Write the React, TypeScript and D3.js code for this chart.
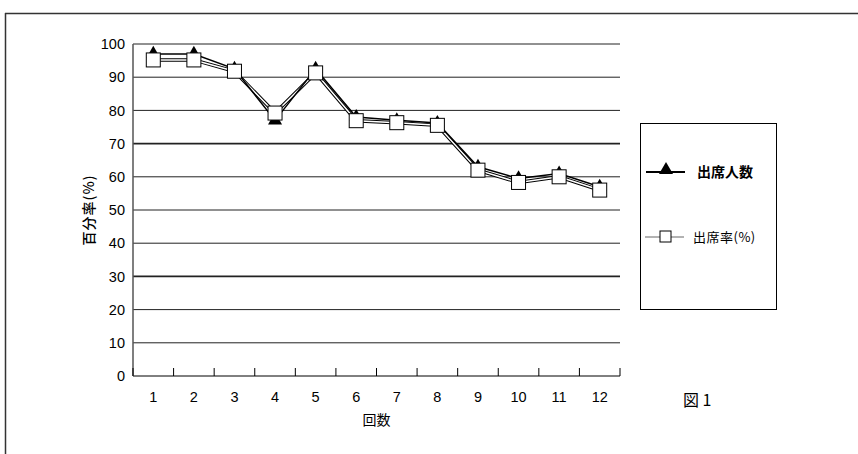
import React from "react";
import * as d3 from "d3";

const categories = ["1", "2", "3", "4", "5", "6", "7", "8", "9", "10", "11", "12"];
const attendees = [97, 97, 92.5, 77, 92.5, 78, 77, 76.2, 63, 59.5, 61, 57];
const attendanceRate = [95.2, 95.2, 91.8, 79.2, 91.3, 76.9, 76.3, 75.5, 62, 58.3, 60, 56];
const yTicks = [0, 10, 20, 30, 40, 50, 60, 70, 80, 90, 100];
const seriesNames = ["出席人数", "出席率(%)"];

const W = 858, H = 454;
const left = 133, right = 620, top = 44, bottom = 376;
const font = "'Liberation Sans', Arial, sans-serif";
const jp = "'Noto Sans CJK JP', sans-serif";

export default function App() {
  const x = d3.scaleBand<string>().domain(categories).range([left, right]);
  const y = d3.scaleLinear().domain([0, 100]).range([bottom, top]);
  const cx = (c: string) => (x(c) as number) + x.bandwidth() / 2;
  const line = d3.line<number>().x((_, i) => cx(categories[i])).y((d) => y(d));
  const tri = d3.symbol().type(d3.symbolTriangle).size(85)();
  const bounds = [...categories.map((c) => x(c) as number), right];

  return (
    <div style={{ position: "absolute", left: 0, top: 0 }}>
      <svg width={W} height={H} style={{ display: "block", background: "#fff" }}>
        <line x1={5} x2={W} y1={13.5} y2={13.5} stroke="#333" strokeWidth={1.5} />
        <line x1={5.5} x2={5.5} y1={13} y2={H} stroke="#333" strokeWidth={1.5} />
        {yTicks.map((t) => (
          <line key={t} x1={left} x2={right} y1={y(t)} y2={y(t)} stroke={t === 0 ? "#000" : "#222"} strokeWidth={t === 70 || t === 30 ? 1.6 : 1} />
        ))}
        <line x1={left} x2={left} y1={top} y2={bottom} stroke="#555" strokeWidth={1.5} />
        {bounds.map((b, i) => (
          <line key={i} x1={b} x2={b} y1={bottom} y2={bottom - 8} stroke="#000" strokeWidth={1} />
        ))}
        {yTicks.map((t) => (
          <text key={t} x={125} y={y(t)} dy="0.36em" textAnchor="end" fontFamily={font} fontSize={14.5} fill="#000">{t}</text>
        ))}
        {categories.map((c) => (
          <text key={c} x={cx(c)} y={397} dy="0.36em" textAnchor="middle" fontFamily={font} fontSize={14.5} fill="#000">{c}</text>
        ))}
        <text x={(left + right) / 2} y={420} dy="0.36em" textAnchor="middle" fontFamily={jp} fontSize={14} fill="#000">回数</text>
        <text transform={`translate(89,${(top + bottom) / 2}) rotate(-90)`} textAnchor="middle" dy="0.36em" fontFamily={jp} fontSize={14} fontWeight={500} letterSpacing={1} fill="#000">百分率(%)</text>
        <path d={line(attendanceRate) || ""} fill="none" stroke="#000" strokeWidth={3.5} />
        <path d={line(attendanceRate) || ""} fill="none" stroke="#fff" strokeWidth={1.5} />
        <path d={line(attendees) || ""} fill="none" stroke="#000" strokeWidth={1.5} />
        {attendees.map((v, i) => (
          <path key={i} d={tri || ""} transform={`translate(${cx(categories[i])},${y(v)})`} fill="#000" />
        ))}
        {attendanceRate.map((v, i) => (
          <rect key={i} x={cx(categories[i]) - 7} y={y(v) - 7} width={14} height={14} fill="#fff" stroke="#000" strokeWidth={1} />
        ))}
        <rect x={640.5} y={123.5} width={136} height={186} fill="#fff" stroke="#000" strokeWidth={1} />
        <line x1={646} x2={685} y1={172} y2={172} stroke="#000" strokeWidth={2} />
        <path d={tri || ""} transform="translate(666,170)" fill="#000" />
        <text x={697} y={172} dy="0.36em" fontFamily={jp} fontSize={14} fontWeight="bold" fill="#000">{seriesNames[0]}</text>
        <line x1={645} x2={684} y1={237} y2={237} stroke="#666" strokeWidth={1} />
        <rect x={660} y={231} width={11} height={11} fill="#fff" stroke="#000" strokeWidth={1} />
        <text x={693} y={237} dy="0.36em" fontFamily={jp} fontSize={13} letterSpacing={0.5} fill="#000">{seriesNames[1]}</text>
        <text x={683} y={400} dy="0.36em" fontFamily={jp} fontSize={16} fill="#000">図 1</text>
      </svg>
    </div>
  );
}
